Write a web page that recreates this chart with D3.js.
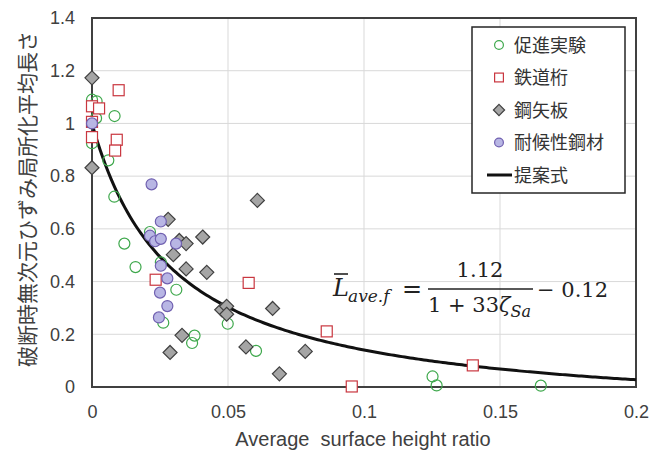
<!DOCTYPE html>
<html>
<head>
<meta charset="utf-8">
<script src="https://cdn.jsdelivr.net/npm/d3@7"></script>
<style>
  body { margin: 0; background: #fff; }
  svg { display: block; }
</style>
</head>
<body>
<div id="chart"></div>
<script>
// data: [x, y]
const acceleratedTest = [
  [0, 1.09], [0.0017, 1.084], [0.0083, 1.028], [0.0015, 1.02], [0, 0.925],
  [0.006, 0.86], [0.0082, 0.722], [0.0213, 0.588], [0.0119, 0.544], [0.016, 0.455],
  [0.0253, 0.473], [0.031, 0.369], [0.0262, 0.244], [0.0499, 0.240], [0.0377, 0.195],
  [0.0368, 0.167], [0.0603, 0.137], [0.1252, 0.040], [0.1267, 0.006], [0.165, 0.005]
];
const railwayGirder = [
  [0.0098, 1.126], [0, 1.065], [0.0026, 1.057], [0, 1.006], [0, 0.948],
  [0.0091, 0.938], [0.0085, 0.897], [0.0234, 0.407], [0.0576, 0.395], [0.0863, 0.211],
  [0.0955, 0.002], [0.140, 0.082]
];
const sheetPile = [
  [0, 1.173], [0, 0.832], [0.0608, 0.708], [0.028, 0.636], [0.0321, 0.556],
  [0.0346, 0.544], [0.0407, 0.569], [0.0299, 0.502], [0.0346, 0.448], [0.0422, 0.435],
  [0.0664, 0.298], [0.0477, 0.293], [0.0495, 0.306], [0.0495, 0.276], [0.0331, 0.196],
  [0.0566, 0.152], [0.0287, 0.131], [0.0689, 0.050], [0.0784, 0.135]
];
const weatheringSteel = [
  [0, 1.0], [0.0219, 0.769], [0.0253, 0.628], [0.0213, 0.574], [0.0232, 0.553],
  [0.0253, 0.562], [0.0309, 0.544], [0.0253, 0.460], [0.0277, 0.412], [0.025, 0.358],
  [0.0277, 0.307], [0.0246, 0.264]
];
const xTicks = [0, 0.05, 0.1, 0.15, 0.2];
const yTicks = [0, 0.2, 0.4, 0.6, 0.8, 1, 1.2, 1.4];
const legendLabels = ['促進実験', '鉄道桁', '鋼矢板', '耐候性鋼材', '提案式'];

// proposed formula  L = 1.12 / (1 + 33 z) - 0.12
const formula = z => 1.12 / (1 + 33 * z) - 0.12;

const width = 671, height = 450;
const margin = { left: 92, right: 35, top: 18, bottom: 63 };

const svg = d3.select('#chart').append('svg')
    .attr('width', width)
    .attr('height', height);

const x = d3.scaleLinear().domain([0, 0.2]).range([margin.left, width - margin.right]);
const y = d3.scaleLinear().domain([0, 1.4]).range([height - margin.bottom, margin.top]);

const sans = 'Arial, "Liberation Sans", sans-serif';
const cjk = '"Noto Sans CJK JP", sans-serif';

// gridlines
svg.append('g').selectAll('line.hgrid')
    .data(yTicks.slice(1))
    .join('line')
    .attr('x1', x(0)).attr('x2', x(0.2))
    .attr('y1', d => y(d)).attr('y2', d => y(d))
    .attr('stroke', '#d9d9d9').attr('stroke-width', 1);

svg.append('g').selectAll('line.vgrid')
    .data(xTicks.slice(1))
    .join('line')
    .attr('y1', y(0)).attr('y2', y(1.4))
    .attr('x1', d => x(d)).attr('x2', d => x(d))
    .attr('stroke', '#d9d9d9').attr('stroke-width', 1);

// axes (labels only, frame is drawn separately)
const xAxis = svg.append('g')
    .attr('transform', `translate(0,${y(0)})`)
    .call(d3.axisBottom(x).tickValues(xTicks).tickSize(0).tickPadding(18).tickFormat(d3.format('~g')));
xAxis.select('.domain').remove();
xAxis.selectAll('text').style('font', `18px ${sans}`).attr('fill', '#404040');

const yAxis = svg.append('g')
    .attr('transform', `translate(${x(0)},0)`)
    .call(d3.axisLeft(y).tickValues(yTicks).tickSize(0).tickPadding(17).tickFormat(d3.format('~g')));
yAxis.select('.domain').remove();
yAxis.selectAll('text').style('font', `18px ${sans}`).attr('fill', '#404040');

// plot frame
svg.append('rect')
    .attr('x', x(0)).attr('y', y(1.4))
    .attr('width', x(0.2) - x(0)).attr('height', y(0) - y(1.4))
    .attr('fill', 'none').attr('stroke', '#404040').attr('stroke-width', 2);

// axis titles
svg.append('text')
    .attr('x', 363).attr('y', 446)
    .attr('text-anchor', 'middle')
    .style('font', `20px ${sans}`)
    .attr('fill', '#404040')
    .attr('xml:space', 'preserve')
    .text('Average  surface height ratio');

svg.append('text')
    .attr('transform', 'translate(35,199) rotate(-90)')
    .attr('text-anchor', 'middle')
    .style('font', `21px ${cjk}`)
    .attr('fill', '#404040')
    .text('破断時無次元ひずみ局所化平均長さ');

// proposed curve
const curvePts = d3.range(0, 0.2001, 0.001).map(z => [z, formula(z)]);
svg.append('path')
    .datum(curvePts)
    .attr('fill', 'none')
    .attr('stroke', '#111')
    .attr('stroke-width', 3)
    .attr('d', d3.line().x(d => x(d[0])).y(d => y(d[1])));

// markers
const styles = {
  circle: { stroke: '#3ea84c', fill: 'none' },
  square: { stroke: '#c9363f', fill: '#fff' },
  diamond: { stroke: '#404040', fill: '#a5a5a5' },
  purple: { stroke: '#7060b0', fill: '#b8b6e4' }
};

function drawMarker(g, kind, px, py, scale = 1) {
  const s = styles[kind];
  if (kind === 'circle' || kind === 'purple') {
    g.append('circle').attr('cx', px).attr('cy', py).attr('r', 5.5 * scale)
      .attr('fill', s.fill).attr('stroke', s.stroke).attr('stroke-width', 1.2);
  } else if (kind === 'square') {
    const h = 5.5 * scale;
    g.append('rect').attr('x', px - h).attr('y', py - h).attr('width', 2 * h).attr('height', 2 * h)
      .attr('fill', s.fill).attr('stroke', s.stroke).attr('stroke-width', 1.2);
  } else {
    const h = 7 * scale;
    g.append('path').attr('d', `M${px},${py - h}L${px + h},${py}L${px},${py + h}L${px - h},${py}Z`)
      .attr('fill', s.fill).attr('stroke', s.stroke).attr('stroke-width', 1.2);
  }
}

const series = [
  { data: acceleratedTest, kind: 'circle' },
  { data: railwayGirder, kind: 'square' },
  { data: sheetPile, kind: 'diamond' },
  { data: weatheringSteel, kind: 'purple' }
];
const pts = svg.append('g');
series.forEach(sr => sr.data.forEach(d => drawMarker(pts, sr.kind, x(d[0]), y(d[1]))));

// equation
const eq = svg.append('g').style('font-family', '"DejaVu Serif", "Liberation Serif", serif').attr('fill', '#222');
eq.append('text').attr('x', 333).attr('y', 296).style('font-size', '24px').style('font-style', 'italic').text('L');
eq.append('line').attr('x1', 334).attr('x2', 348).attr('y1', 274).attr('y2', 274).attr('stroke', '#222').attr('stroke-width', 1.6);
eq.append('text').attr('x', 348).attr('y', 302).style('font-size', '17px').style('font-style', 'italic').text('ave.f');
eq.append('text').attr('x', 402).attr('y', 297).style('font-size', '24px').text('=');
eq.append('text').attr('x', 480).attr('y', 277).attr('text-anchor', 'middle').style('font-size', '21px').text('1.12');
eq.append('line').attr('x1', 428).attr('x2', 533).attr('y1', 289).attr('y2', 289).attr('stroke', '#222').attr('stroke-width', 1.6);
const den = eq.append('text').attr('x', 428).attr('y', 312).style('font-size', '21px');
den.append('tspan').text('1 + 33');
den.append('tspan').style('font-style', 'italic').text('ζ');
den.append('tspan').attr('dy', 5).style('font-size', '16px').style('font-style', 'italic').text('Sa');
eq.append('text').attr('x', 537).attr('y', 297).style('font-size', '21px').text('− 0.12');

// legend
const lg = svg.append('g');
lg.append('rect').attr('x', 472).attr('y', 27).attr('width', 153).attr('height', 166)
  .attr('fill', '#fff').attr('stroke', '#262626').attr('stroke-width', 1.5);
const legendKinds = ['circle', 'square', 'diamond', 'purple'];
legendLabels.forEach((lab, i) => {
  const ly = 45 + i * 32.5;
  if (i < 4) {
    drawMarker(lg, legendKinds[i], 499, ly, 0.8);
  } else {
    lg.append('line').attr('x1', 487).attr('x2', 512).attr('y1', ly).attr('y2', ly)
      .attr('stroke', '#111').attr('stroke-width', 3);
  }
  lg.append('text').attr('x', 514).attr('y', ly + 6.5)
    .style('font', `18px ${cjk}`).attr('fill', '#333').text(lab);
});
</script>
</body>
</html>
